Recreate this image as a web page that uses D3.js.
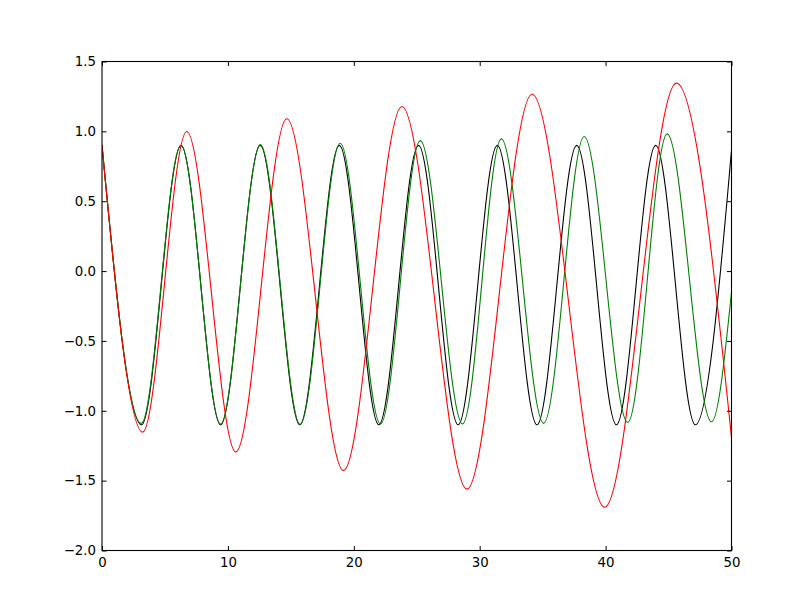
<!DOCTYPE html>
<html><head><meta charset="utf-8">
<script src="https://cdn.jsdelivr.net/npm/d3@7"></script>
<style>body{margin:0;background:#fff;} svg{display:block;}</style>
</head><body>
<svg id="chart" width="812" height="612"></svg>
<script>
// Extrema (turning points) of each curve: [t, value]
const blackT = [0, 3.14, 6.28, 9.42, 12.57, 15.71, 18.85, 21.99, 25.14, 28.29, 31.40, 34.55, 37.71, 40.86, 43.98, 47.13, 50];
const blackY = [0.9, -1.1, 0.9, -1.1, 0.9, -1.1, 0.9, -1.1, 0.9, -1.1, 0.9, -1.1, 0.9, -1.1, 0.9, -1.1, 0.865];
const greenT = [0, 3.12, 6.27, 9.42, 12.58, 15.74, 18.92, 22.12, 25.28, 28.64, 31.72, 35.08, 38.30, 41.76, 44.89, 48.41, 50];
const greenY = [0.9, -1.09, 0.90, -1.095, 0.905, -1.097, 0.915, -1.095, 0.934, -1.094, 0.946, -1.09, 0.963, -1.084, 0.982, -1.079, -0.15];
const redT = [0, 3.23, 6.73, 10.63, 14.68, 19.18, 23.82, 28.99, 34.16, 39.93, 45.63, 50];
const redY = [0.9, -1.153, 0.999, -1.294, 1.09, -1.428, 1.178, -1.561, 1.266, -1.69, 1.345, -1.19];
const xTicks = [0, 10, 20, 30, 40, 50];
const yTicks = [-2.0, -1.5, -1.0, -0.5, 0.0, 0.5, 1.0, 1.5];

const L = 102, R = 731.5, T = 61.5, B = 550.5;
const svg = d3.select("#chart");
const x = d3.scaleLinear().domain([0, 50]).range([L, R]);
const y = d3.scaleLinear().domain([-2.0, 1.5]).range([B, T]);

svg.append("defs").append("clipPath").attr("id", "clip")
  .append("rect").attr("x", L).attr("y", T).attr("width", R - L).attr("height", B - T);

const line = d3.line().x(d => x(d[0])).y(d => y(d[1])).curve(d3.curveMonotoneX);
const series = [
  {t: blackT, v: blackY, c: "#000000"},
  {t: greenT, v: greenY, c: "#008000"},
  {t: redT, v: redY, c: "#ff0000"}
];
const g = svg.append("g").attr("clip-path", "url(#clip)");
series.forEach(s => {
  g.append("path").datum(s.t.map((t, i) => [t, s.v[i]]))
    .attr("d", line).attr("fill", "none").attr("stroke", s.c).attr("stroke-width", 1.1);
});

const fmtY = d => (d < 0 ? "\u2212" : "") + Math.abs(d).toFixed(1);
const font = "DejaVu Sans, sans-serif";

// Axes with inward ticks on all sides
const axB = svg.append("g").attr("transform", `translate(0,${B})`)
  .call(d3.axisBottom(x).tickValues(xTicks).tickSize(-4.5).tickPadding(6).tickFormat(d3.format("d")));
const axT = svg.append("g").attr("transform", `translate(0,${T})`)
  .call(d3.axisTop(x).tickValues(xTicks).tickSize(-4.5).tickFormat(""));
const axL = svg.append("g").attr("transform", `translate(${L},0)`)
  .call(d3.axisLeft(y).tickValues(yTicks).tickSize(-4.5).tickPadding(6).tickFormat(fmtY));
const axR = svg.append("g").attr("transform", `translate(${R},0)`)
  .call(d3.axisRight(y).tickValues(yTicks).tickSize(-4.5).tickFormat(""));
[axB, axT, axL, axR].forEach(a => {
  a.select(".domain").remove();
  a.selectAll(".tick line").attr("stroke", "#000").attr("stroke-width", 1);
  a.selectAll("text").attr("font-family", font).attr("font-size", 13.33).attr("fill", "#000");
});
axB.selectAll("text").attr("dy", "0.8em");

svg.append("rect").attr("x", L).attr("y", T).attr("width", R - L).attr("height", B - T)
  .attr("fill", "none").attr("stroke", "#000").attr("stroke-width", 1.1);
</script>
</body></html>
